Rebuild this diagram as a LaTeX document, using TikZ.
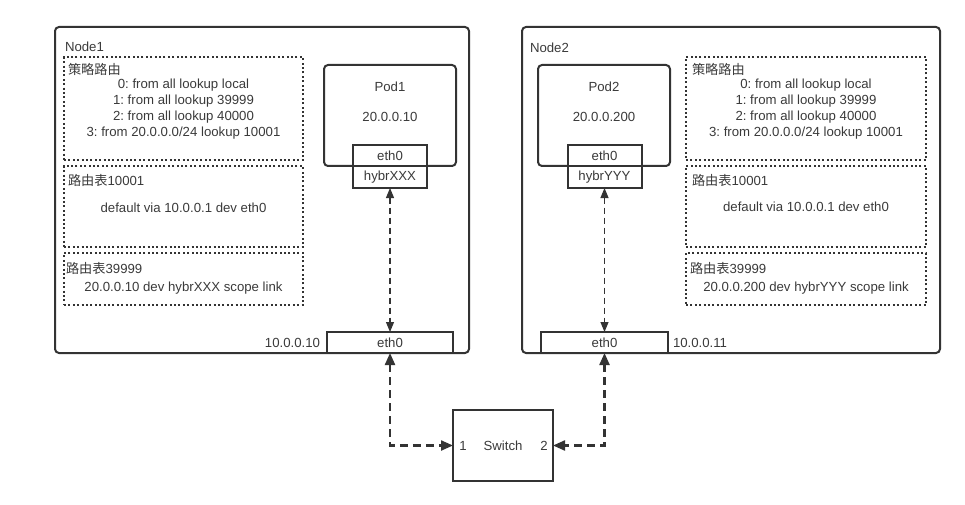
\documentclass[tikz,border=0pt]{standalone}
\usepackage{fontspec}
\setmainfont{Liberation Sans}
\newfontfamily\cjk{Noto Sans CJK SC}
\usetikzlibrary{arrows.meta}
\definecolor{ln}{HTML}{333333}
\definecolor{tx}{HTML}{3A3A3A}
\frenchspacing
\begin{document}
\begin{tikzpicture}[x=1pt,y=-1pt,
  every node/.style={inner sep=0pt,outer sep=0pt,text=tx,font=\fontsize{13.2}{15}\selectfont\frenchspacing},
  hostbox/.style={draw=ln,line width=2pt,rounded corners=4pt,rectangle},
  podbox/.style={draw=ln,line width=2pt,rounded corners=4pt,rectangle},
  dotbox/.style={draw=ln,line width=2pt,dash pattern=on 2pt off 2.4pt,rectangle},
  ifbox/.style={draw=ln,line width=2pt,rectangle,fill=white},
  swbox/.style={draw=ln,line width=2pt,rectangle},
  innerarrow/.style={draw=ln,line width=1.1pt,dash pattern=on 6pt off 4pt,{Triangle[length=10pt,width=8pt]}-{Triangle[length=10pt,width=8pt]}},
  outerarrow/.style={draw=ln,line width=2.2pt,dash pattern=on 8pt off 5pt,{Triangle[length=12pt,width=10pt]}-{Triangle[length=12pt,width=10pt]}},
  lbl/.style={anchor=west},
  ctr/.style={anchor=center}]
\useasboundingbox (0,0) rectangle (965,505);
% ---------- Node1 ----------
\node[hostbox,minimum width=414pt,minimum height=326pt] (n1) at (262,190) {};
\node[lbl] (n1t) at (65,47) {Node1};
\node[dotbox,minimum width=239pt,minimum height=103pt] (p1) at (183.5,108.5) {};
\node[dotbox,minimum width=239pt,minimum height=81pt] (t1a) at (183.5,206.5) {};
\node[dotbox,minimum width=239pt,minimum height=52pt] (t1b) at (183.5,279) {};
\node[lbl] (p1h) at (68,69) {\cjk 策略路由};
\node[ctr] (p1l0) at (183.5,85) {0: from all lookup local};
\node[ctr] (p1l1) at (183.5,101) {1: from all lookup 39999};
\node[ctr] (p1l2) at (183.5,117) {2: from all lookup 40000};
\node[ctr] (p1l3) at (183.5,133) {3: from 20.0.0.0/24 lookup 10001};
\node[lbl] (t1ah) at (68,180) {{\cjk 路由表}10001};
\node[ctr] (t1al) at (183.5,208) {default via 10.0.0.1 dev eth0};
\node[lbl] (t1bh) at (66,268) {{\cjk 路由表}39999};
\node[ctr] (t1bl) at (183.5,288) {20.0.0.10 dev hybrXXX scope link};
\node[podbox,minimum width=132pt,minimum height=101pt] (pod1) at (390,115.5) {};
\node[ctr] (pod1n) at (390,87) {Pod1};
\node[ctr] (pod1ip) at (390,117) {20.0.0.10};
\node[ifbox,minimum width=74pt,minimum height=21pt] (pe1) at (390,155.5) {eth0};
\node[ifbox,minimum width=74pt,minimum height=22pt] (hx) at (390,177) {hybrXXX};
\node[ifbox,minimum width=126pt,minimum height=21pt] (e1) at (390,342.5) {eth0};
\node[anchor=east] (ip1) at (320,343) {10.0.0.10};
% ---------- Node2 ----------
\node[hostbox,minimum width=418pt,minimum height=326pt] (n2) at (731,190) {};
\node[lbl] (n2t) at (530,48) {Node2};
\node[dotbox,minimum width=240pt,minimum height=103pt] (p2) at (806,108.5) {};
\node[dotbox,minimum width=240pt,minimum height=81pt] (t2a) at (806,206.5) {};
\node[dotbox,minimum width=240pt,minimum height=52pt] (t2b) at (806,279) {};
\node[lbl] (p2h) at (692,69) {\cjk 策略路由};
\node[ctr] (p2l0) at (806,85) {0: from all lookup local};
\node[ctr] (p2l1) at (806,101) {1: from all lookup 39999};
\node[ctr] (p2l2) at (806,117) {2: from all lookup 40000};
\node[ctr] (p2l3) at (806,133) {3: from 20.0.0.0/24 lookup 10001};
\node[lbl] (t2ah) at (692,180) {{\cjk 路由表}10001};
\node[ctr] (t2al) at (806,207) {default via 10.0.0.1 dev eth0};
\node[lbl] (t2bh) at (690,268) {{\cjk 路由表}39999};
\node[ctr] (t2bl) at (806,288) {20.0.0.200 dev hybrYYY scope link};
\node[podbox,minimum width=132pt,minimum height=101pt] (pod2) at (604,115.5) {};
\node[ctr] (pod2n) at (604,87) {Pod2};
\node[ctr] (pod2ip) at (604,117) {20.0.0.200};
\node[ifbox,minimum width=74pt,minimum height=21pt] (pe2) at (604.5,155.5) {eth0};
\node[ifbox,minimum width=74pt,minimum height=22pt] (hy) at (604.5,177) {hybrYYY};
\node[ifbox,minimum width=127pt,minimum height=21pt] (e2) at (604.5,342.5) {eth0};
\node[anchor=west] (ip2) at (673,343) {10.0.0.11};
% ---------- Switch ----------
\node[swbox,minimum width=100pt,minimum height=71pt] (sw) at (503,445.5) {Switch};
\node[ctr] (sw1) at (463,446) {1};
\node[ctr] (sw2) at (544,446) {2};
% ---------- connectors ----------
\draw[innerarrow] (hx.south) -- (e1.north);
\draw[innerarrow] (hy.south) -- (e2.north);
\draw[outerarrow] (e1.south) |- (sw.west);
\draw[outerarrow] (e2.south) |- (sw.east);
\end{tikzpicture}
\end{document}
